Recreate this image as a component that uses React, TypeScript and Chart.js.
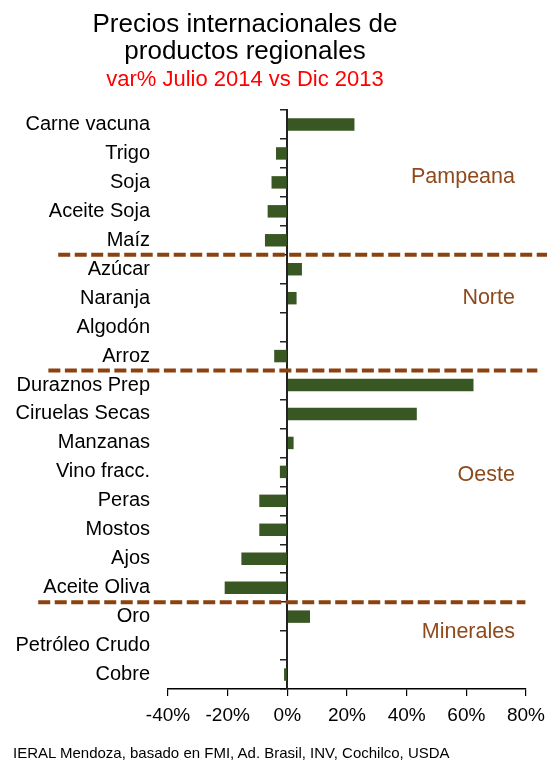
import React, { useEffect, useRef } from 'react';
import { Chart, registerables } from 'chart.js';

Chart.register(...registerables);

const categories = [
  'Carne vacuna', 'Trigo', 'Soja', 'Aceite Soja', 'Maíz',
  'Azúcar', 'Naranja', 'Algodón', 'Arroz',
  'Duraznos Prep', 'Ciruelas Secas', 'Manzanas', 'Vino fracc.', 'Peras', 'Mostos', 'Ajos', 'Aceite Oliva',
  'Oro', 'Petróleo Crudo', 'Cobre',
];
const values = [
  22.5, -3.8, -5.3, -6.6, -7.5,
  4.9, 3.1, -0.2, -4.4,
  62.4, 43.4, 2.1, -2.5, -9.4, -9.4, -15.4, -21.0,
  7.6, -0.2, -1.1,
];
const xMin = -40;
const xMax = 80;
const xStep = 20;

const regionNames = ['Pampeana', 'Norte', 'Oeste', 'Minerales'];
const regionRows = [1.8, 6, 12.1, 17.55];
const regionRightValue = 76.3;

const breakAfter = [4, 8, 16];
const breakFrom = [-76.8, -80.1, -83.5];
const breakTo = [88, 83.8, 79.8];

const FONT = '"Liberation Sans", Arial, sans-serif';
const BROWN = '#8B4110';
const REGION_TEXT = '#8E4A1C';

const regionPlugin = {
  id: 'regions',
  afterDraw(chart: any) {
    const { ctx } = chart;
    const x = chart.scales.x;
    const y = chart.scales.y;
    ctx.save();
    ctx.strokeStyle = BROWN;
    ctx.lineWidth = 4;
    ctx.setLineDash([12, 4.5]);
    breakAfter.forEach((idx, i) => {
      const py = (y.getPixelForValue(idx) + y.getPixelForValue(idx + 1)) / 2;
      ctx.beginPath();
      ctx.moveTo(x.getPixelForValue(breakFrom[i]), py);
      ctx.lineTo(x.getPixelForValue(breakTo[i]), py);
      ctx.stroke();
    });
    ctx.setLineDash([]);
    ctx.fillStyle = REGION_TEXT;
    ctx.font = `21.5px ${FONT}`;
    ctx.textAlign = 'right';
    ctx.textBaseline = 'middle';
    regionNames.forEach((name, i) => {
      ctx.fillText(name, x.getPixelForValue(regionRightValue), y.getPixelForValue(regionRows[i]));
    });
    ctx.restore();
  },
};

export default function App() {
  const canvasRef = useRef<HTMLCanvasElement | null>(null);

  useEffect(() => {
    document.body.style.margin = '0';
    const canvas = canvasRef.current;
    if (!canvas) return;
    const chart = new Chart(canvas, {
      type: 'bar',
      data: {
        labels: categories,
        datasets: [
          {
            data: values,
            backgroundColor: '#385723',
            borderWidth: 0,
            barPercentage: 0.43,
            categoryPercentage: 1,
            xAxisID: 'x',
            yAxisID: 'y',
          },
        ],
      },
      options: {
        indexAxis: 'y',
        animation: false,
        responsive: false,
        devicePixelRatio: 1,
        layout: { padding: { top: 110, right: 21, bottom: 0, left: 0 } },
        plugins: {
          legend: { display: false },
          tooltip: { enabled: false },
          title: { display: false },
        },
        scales: {
          x: {
            type: 'linear',
            position: 'bottom',
            min: xMin,
            max: xMax,
            ticks: {
              stepSize: xStep,
              padding: 8,
              color: '#000',
              font: { family: FONT, size: 19 },
              callback: (v: any) => `${v}%`,
            },
            grid: { drawOnChartArea: false, tickLength: 7, color: '#000', lineWidth: 1.2 },
            border: { color: '#000', width: 1.5 },
            afterFit: (scale: any) => {
              scale.height = 74;
              scale.paddingLeft = 0;
              scale.paddingRight = 0;
            },
          },
          y: {
            type: 'category',
            position: 'left',
            offset: true,
            grid: { display: false, drawTicks: false },
            border: { display: false },
            ticks: {
              autoSkip: false,
              padding: 18,
              color: '#000',
              font: { family: FONT, size: 20 },
            },
            afterFit: (scale: any) => {
              scale.width = 168;
              scale.paddingTop = 0;
              scale.paddingBottom = 0;
            },
          },
          y2: {
            type: 'category',
            axis: 'y',
            position: { x: 0 },
            offset: true,
            grid: { offset: true, drawOnChartArea: false, tickLength: 6, color: '#222', lineWidth: 1.5 },
            ticks: { display: false, autoSkip: false },
            border: { color: '#222', width: 2 },
          },
        },
      } as any,
      plugins: [regionPlugin],
    });
    return () => chart.destroy();
  }, []);

  return (
    <div style={{ position: 'relative', width: 547, height: 763, fontFamily: FONT, background: '#fff', overflow: 'hidden' }}>
      <canvas ref={canvasRef} width={547} height={763} style={{ position: 'absolute', left: 0, top: 0 }} />
      <div style={{ position: 'absolute', left: 0, top: 10, width: 490, textAlign: 'center', fontSize: 26, lineHeight: '27px', color: '#000' }}>
        Precios internacionales de<br />productos regionales
      </div>
      <div style={{ position: 'absolute', left: 0, top: 66, width: 490, textAlign: 'center', fontSize: 22, lineHeight: '25px', color: '#FF0000' }}>
        var% Julio 2014 vs Dic 2013
      </div>
      <div style={{ position: 'absolute', left: 13, top: 745, fontSize: 15, lineHeight: '15px', color: '#000', whiteSpace: 'nowrap' }}>
        IERAL Mendoza, basado en FMI, Ad. Brasil, INV, Cochilco, USDA
      </div>
    </div>
  );
}
